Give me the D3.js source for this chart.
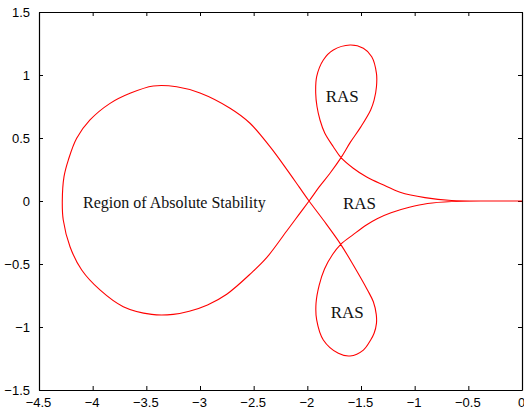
<!DOCTYPE html>
<html>
<head>
<meta charset="utf-8">
<script src="https://cdn.jsdelivr.net/npm/d3@7"></script>
<style>
  body { margin: 0; background: #fff; }
  svg { display: block; }
</style>
</head>
<body>
<div id="chart"></div>
<script>
// tick values
var xTicks = [-4.5, -4, -3.5, -3, -2.5, -2, -1.5, -1, -0.5, 0];
var yTicks = [-1.5, -1, -0.5, 0, 0.5, 1, 1.5];

var reZ = [0, -0.3, -0.655, -0.904, -1.136, -1.30, -1.447, -1.572, -1.686,
  -1.758, -1.838, -1.882, -1.91, -1.922, -1.913, -1.851, -1.758, -1.602, -1.478, -1.40,
  -1.356, -1.356, -1.378, -1.41, -1.50, -1.60, -1.686, -1.789, -1.882, -1.984,
  -2.084, -2.192, -2.379, -2.52, -2.751, -2.93, -3.1, -3.25, -3.45,
  -3.715, -3.932, -4.102, -4.211, -4.274, -4.283,
  -4.267, -4.227, -4.149, -4.025, -3.838, -3.652, -3.435, -3.217, -3.0,
  -2.72, -2.534, -2.348, -2.192, -2.075, -1.984,
  -1.851, -1.689, -1.572, -1.44, -1.385, -1.358, -1.356, -1.378, -1.41, -1.478, -1.602,
  -1.711, -1.851, -1.913, -1.919, -1.89, -1.84, -1.765, -1.689,
  -1.57, -1.45, -1.35, -1.22, -1.05, -0.88, -0.655, -0.3, 0];
var imZ = [0, 0, 0.004, 0.027, 0.07, 0.13, 0.19, 0.26, 0.344,
  0.431, 0.54, 0.643, 0.75, 0.855, 0.987, 1.119, 1.198, 1.238, 1.212, 1.145,
  1.013, 0.907, 0.80, 0.722, 0.59, 0.465, 0.344, 0.22, 0.12, 0,
  -0.114, -0.238, -0.45, -0.57, -0.74, -0.825, -0.875, -0.9, -0.9,
  -0.839, -0.706, -0.548, -0.363, -0.151, 0,
  0.193, 0.325, 0.498, 0.643, 0.775, 0.855, 0.913, 0.907, 0.857,
  0.736, 0.617, 0.431, 0.251, 0.11, 0,
  -0.151, -0.344, -0.508, -0.706, -0.80, -0.90, -0.971, -1.05, -1.103, -1.183, -1.23,
  -1.209, -1.103, -0.944, -0.812, -0.67, -0.54, -0.425, -0.344,
  -0.265, -0.19, -0.14, -0.093, -0.05, -0.02, -0.004, 0, 0];

// text annotations and where they sit (data units, left end of baseline)
var labelText = ["Region of Absolute Stability", "RAS", "RAS", "RAS"];
var labelX = [-4.09, -1.829, -1.668, -1.782];
var labelY = [-0.056, 0.788, -0.063, -0.931];

var w = 524;
var h = 412;
var margin = {top: 12, right: 2, bottom: 22, left: 39};

var svg = d3.select("#chart")
  .append("svg")
  .attr("width", w)
  .attr("height", h);

var x = d3.scaleLinear().domain([-4.5, 0]).range([margin.left, w - margin.right]);
var y = d3.scaleLinear().domain([-1.5, 1.5]).range([h - margin.bottom, margin.top]);

//axes with inward ticks, box on all four sides
var tickLen = 4;
svg.append("g")
  .attr("transform", "translate(0," + y(-1.5) + ")")
  .call(d3.axisBottom(x).tickValues(xTicks).tickSizeInner(-tickLen).tickSizeOuter(0).tickPadding(8).tickFormat(d3.format("")))
  .call(function(g) { g.selectAll("text").attr("dx", "-1"); });
svg.append("g")
  .attr("transform", "translate(0," + y(1.5) + ")")
  .call(d3.axisTop(x).tickValues(xTicks).tickSizeInner(-tickLen).tickSizeOuter(0).tickFormat(""));
svg.append("g")
  .attr("transform", "translate(" + x(-4.5) + ",0)")
  .call(d3.axisLeft(y).tickValues(yTicks).tickSizeInner(-tickLen).tickSizeOuter(0).tickPadding(9).tickFormat(d3.format("")));
svg.append("g")
  .attr("transform", "translate(" + x(0) + ",0)")
  .call(d3.axisRight(y).tickValues(yTicks).tickSizeInner(-tickLen).tickSizeOuter(0).tickFormat(""));

svg.selectAll(".tick text")
  .attr("font-family", "Liberation Sans, Arial, sans-serif")
  .attr("font-size", "13px")
  .attr("fill", "#000");
svg.selectAll(".domain").attr("stroke", "#000").attr("stroke-width", 1.2);
svg.selectAll(".tick line").attr("stroke", "#000");

//boundary of the stability region
var pts = reZ.map(function(d, i) { return [d, imZ[i]]; });
var line = d3.line()
  .x(function(d) { return x(d[0]); })
  .y(function(d) { return y(d[1]); })
  .curve(d3.curveCatmullRom.alpha(0.5));

svg.append("path")
  .datum(pts)
  .attr("d", line)
  .attr("fill", "none")
  .attr("stroke", "#ff0000")
  .attr("stroke-width", 1.1);

//labels
svg.selectAll("text.lab")
  .data(labelText)
  .enter()
  .append("text")
  .attr("class", "lab")
  .text(function(d) { return d; })
  .attr("x", function(d, i) { return x(labelX[i]); })
  .attr("y", function(d, i) { return y(labelY[i]); })
  .attr("font-family", "Liberation Serif, Times New Roman, serif")
  .attr("font-size", function(d, i) { return i === 0 ? "16px" : "17px"; })
  .attr("fill", "#111");
</script>
</body>
</html>
